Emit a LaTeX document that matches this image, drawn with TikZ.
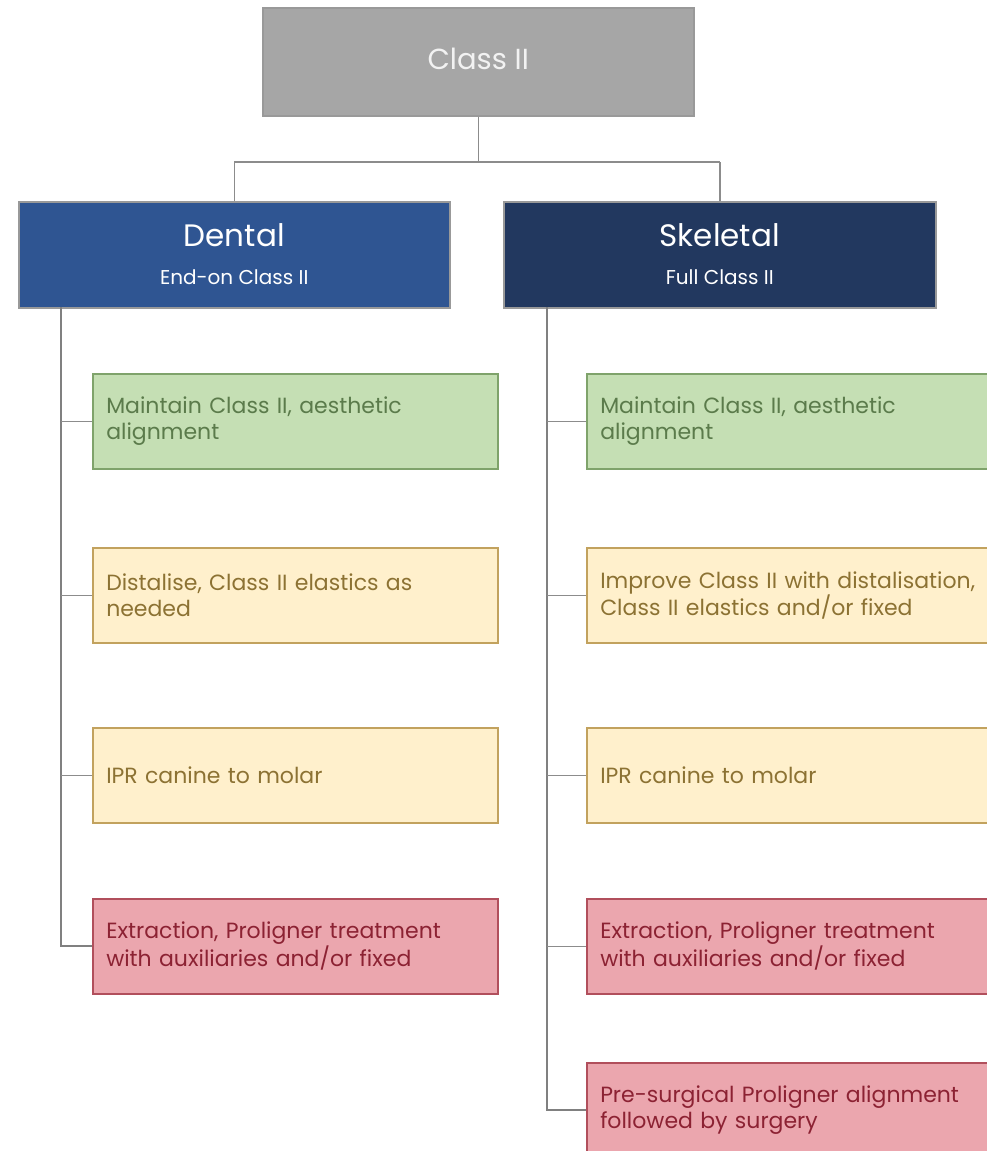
\documentclass[tikz,border=0pt]{standalone}
\usepackage{fontspec}
\setmainfont{Poppins}
\begin{document}
\begin{tikzpicture}[x=1pt,y=-1pt,
  box/.style={rectangle, anchor=north west, inner sep=0pt, line width=1.5pt},
  head/.style={box, draw=black!40, fill=#1, text=white, align=center},
  item/.style={box, minimum width=405pt, minimum height=95pt, text width=378pt,
    align=left, font=\fontsize{22}{26}\selectfont},
  greenbox/.style={item, fill=boxgreen, draw=edgegreen, text=txtgreen},
  yellowbox/.style={item, fill=boxyellow, draw=edgeyellow, text=txtyellow},
  redbox/.style={item, fill=boxred, draw=edgered, text=txtred},
  trunk/.style={draw=black!50, line width=2pt},
  link/.style={draw=black!45, line width=1.5pt}]
\definecolor{boxgreen}{HTML}{C5DFB4}
\definecolor{edgegreen}{HTML}{7FA36B}
\definecolor{txtgreen}{HTML}{5B7B4B}
\definecolor{boxyellow}{HTML}{FFF0CC}
\definecolor{edgeyellow}{HTML}{C2A25E}
\definecolor{txtyellow}{HTML}{8C7233}
\definecolor{boxred}{HTML}{EBA6AE}
\definecolor{edgered}{HTML}{B14F5C}
\definecolor{txtred}{HTML}{8C2233}
\definecolor{dentalblue}{HTML}{2F5592}
\definecolor{skelblue}{HTML}{22385F}
\definecolor{rootgray}{HTML}{A6A6A6}

\useasboundingbox (0,0) rectangle (987,1151);
\clip (0,0) rectangle (987,1151);

% top level
\node[head=rootgray, minimum width=431pt, minimum height=108pt] (root) at (262,7) {};
\node[text=white!95!black, font=\fontsize{29}{32}\selectfont] (rootT) at ([yshift=-52pt]root.north) {Class II};

% the two groups
\node[head=dentalblue, minimum width=431pt, minimum height=106pt] (dental) at (18,201) {};
\node[text=white, font=\fontsize{31}{34}\selectfont] (dentalT) at ([yshift=-34pt]dental.north) {Dental};
\node[text=white, font=\fontsize{20}{22}\selectfont] (dentalS) at ([yshift=-76pt]dental.north) {End-on Class II};

\node[head=skelblue, minimum width=432pt, minimum height=106pt] (skel) at (503,201) {};
\node[text=white, font=\fontsize{31}{34}\selectfont] (skelT) at ([yshift=-34pt]skel.north) {Skeletal};
\node[text=white, font=\fontsize{20}{22}\selectfont] (skelS) at ([yshift=-76pt]skel.north) {Full Class II};

% dental options
\node[greenbox] (d1) at (92,373) {Maintain Class II, aesthetic\\alignment};
\node[yellowbox] (d2) at (92,547) {Distalise, Class II elastics as\\needed};
\node[yellowbox] (d3) at (92,727) {IPR canine to molar};
\node[redbox] (d4) at (92,898) {Extraction, Proligner treatment\\with auxiliaries and/or fixed};

% skeletal options
\node[greenbox] (s1) at (586,373) {Maintain Class II, aesthetic\\alignment};
\node[yellowbox] (s2) at (586,547) {Improve Class II with distalisation,\\Class II elastics and/or fixed};
\node[yellowbox] (s3) at (586,727) {IPR canine to molar};
\node[redbox] (s4) at (586,898) {Extraction, Proligner treatment\\with auxiliaries and/or fixed};
\node[redbox] (s5) at (586,1062) {Pre-surgical Proligner alignment\\followed by surgery};

% root to groups
\coordinate (split) at (root.south |- 0,162);
\draw[link] (root.south) -- (split);
\draw[link] (dental.north |- split) -- (skel.north |- split);
\draw[link] (dental.north |- split) -- (dental.north);
\draw[link] (skel.north |- split) -- (skel.north);

% dental trunk and branches
\coordinate (dtop) at (61,307);
\draw[trunk] (dtop) -- (dtop |- d4.west) -- (d4.west);
\foreach \n in {d1,d2,d3} \draw[link] (dtop |- \n.west) -- (\n.west);

% skeletal trunk and branches
\coordinate (stop) at (547,307);
\draw[trunk] (stop) -- (stop |- s5.west) -- (s5.west);
\foreach \n in {s1,s2,s3,s4} \draw[link] (stop |- \n.west) -- (\n.west);
\end{tikzpicture}
\end{document}
